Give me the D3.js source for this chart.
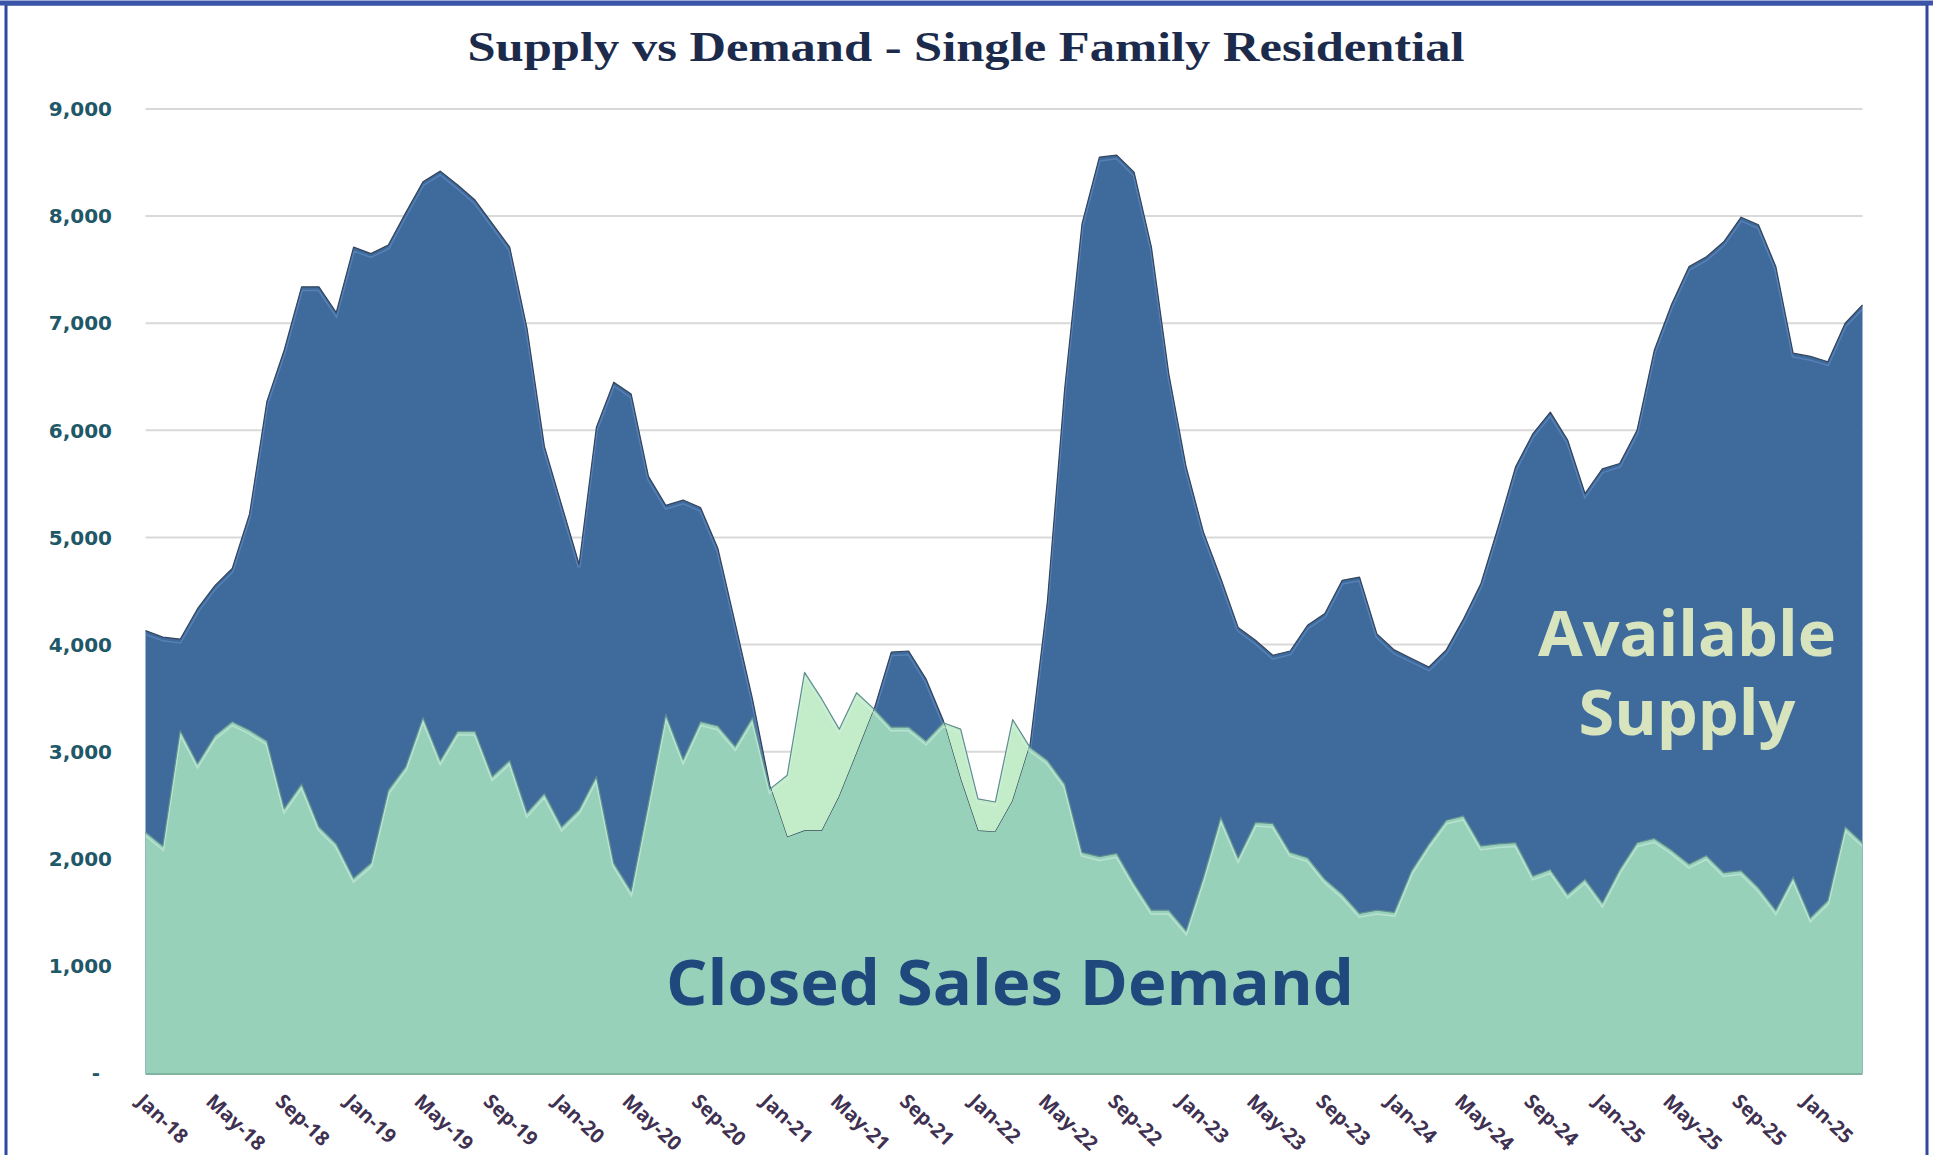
<!DOCTYPE html>
<html>
<head>
<meta charset="utf-8">
<script src="https://cdn.jsdelivr.net/npm/d3@7"></script>
<style>
    body { margin: 0; background: #fff; }
    svg { display: block; }
</style>
</head>
<body>
<div id="chart"></div>
<script>
const tickLabels = ["Jan-18", "May-18", "Sep-18", "Jan-19", "May-19", "Sep-19", "Jan-20", "May-20", "Sep-20",
    "Jan-21", "May-21", "Sep-21", "Jan-22", "May-22", "Sep-22", "Jan-23", "May-23", "Sep-23",
    "Jan-24", "May-24", "Sep-24", "Jan-25", "May-25", "Sep-25", "Jan-25"];

// monthly, Jan-18 .. Apr-26
const supply = [
    4130, 4070, 4050, 4335, 4550, 4710, 5220, 6270, 6750, 7340,
    7340, 7100, 7710, 7650, 7730, 8030, 8320, 8420, 8290, 8150,
    7930, 7710, 6950, 5850, 5300, 4750, 6030, 6450, 6340, 5570,
    5300, 5350, 5280, 4900, 4200, 3490, 2680, 2200, 2260, 2260,
    2580, 2980, 3390, 3930, 3940, 3680, 3290, 2740, 2260, 2250,
    2540, 3060, 4400, 6390, 7930, 8550, 8570, 8410, 7710, 6530,
    5660, 5050, 4620, 4160, 4040, 3900, 3940, 4180, 4290, 4600,
    4630, 4100, 3950, 3870, 3790, 3950, 4240, 4570, 5100, 5660,
    5970, 6170, 5910, 5410, 5640, 5690, 6000, 6750, 7180, 7530,
    7620, 7760, 7990, 7920, 7530, 6720, 6690, 6640, 7000, 7170
];

const demand = [
    2250, 2120, 3200, 2890, 3150, 3280, 3200, 3100, 2470, 2700,
    2300, 2140, 1820, 1960, 2640, 2860, 3320, 2920, 3190, 3190,
    2770, 2920, 2430, 2610, 2300, 2460, 2770, 1960, 1700, 2520,
    3350, 2930, 3280, 3240, 3050, 3320, 2650, 2780, 3740, 3490,
    3210, 3550, 3400, 3230, 3230, 3100, 3270, 3210, 2560, 2530,
    3300, 3040, 2920, 2700, 2060, 2020, 2050, 1770, 1520, 1520,
    1330, 1830, 2390, 2010, 2340, 2330, 2060, 2010, 1810, 1670,
    1490, 1520, 1500, 1890, 2140, 2360, 2400, 2120, 2140, 2150,
    1840, 1900, 1670, 1810, 1590, 1900, 2150, 2190, 2080, 1950,
    2030, 1870, 1890, 1730, 1520, 1830, 1450, 1610, 2300, 2150
];

const yTicks = [0, 1000, 2000, 3000, 4000, 5000, 6000, 7000, 8000, 9000];

const width = 1933;
const height = 1155;

const svg = d3.select("#chart")
    .append("svg")
    .attr("width", width)
    .attr("height", height);

const x = d3.scaleLinear().domain([0, supply.length - 1]).range([145.5, 1862.5]);
const y = d3.scaleLinear().domain([0, 9000]).range([1073, 109]);

// frame
svg.append("rect")
    .attr("x", 6).attr("y", 4)
    .attr("width", 1921).attr("height", 1200)
    .attr("fill", "none")
    .attr("stroke", "#2f47a0")
    .attr("stroke-width", 3);
svg.append("line")
    .attr("x1", 0).attr("x2", width)
    .attr("y1", 3).attr("y2", 3)
    .attr("stroke", "#3a55a8")
    .attr("stroke-width", 5);

svg.append("text")
    .attr("x", 966).attr("y", 61)
    .attr("text-anchor", "middle")
    .attr("textLength", 997)
    .attr("lengthAdjust", "spacingAndGlyphs")
    .style("font-family", "'Liberation Serif', 'Times New Roman', serif")
    .style("font-weight", "bold")
    .style("font-size", "43px")
    .style("fill", "#1c2b4b")
    .text("Supply vs Demand - Single Family Residential");

// grid + y labels
svg.append("g")
    .selectAll("line")
    .data(yTicks)
    .join("line")
    .attr("x1", x(0)).attr("x2", x(supply.length - 1))
    .attr("y1", d => y(d)).attr("y2", d => y(d))
    .attr("stroke", "#d9d9d9")
    .attr("stroke-width", 2);

svg.append("g")
    .selectAll("text")
    .data(yTicks)
    .join("text")
    .attr("x", d => d === 0 ? 100 : 112)
    .attr("y", d => y(d))
    .attr("dy", "0.36em")
    .attr("text-anchor", "end")
    .style("font-family", "'DejaVu Sans', Verdana, sans-serif")
    .style("font-weight", "bold")
    .style("font-size", "20px")
    .style("fill", "#215868")
    .text(d => d === 0 ? "-" : d3.format(",")(d));

const area = d3.area()
    .x((d, i) => x(i))
    .y0(y(0))
    .y1(d => y(d));

const line = d3.line()
    .x((d, i) => x(i))
    .y(d => y(d));

const defs = svg.append("defs");
defs.append("clipPath").attr("id", "supplyClip")
    .append("path").attr("d", area(supply));
defs.append("clipPath").attr("id", "demandClip")
    .append("path").attr("d", area(demand));

const g = svg.append("g");

// demand where it sits above supply
g.append("path")
    .attr("d", area(demand))
    .attr("fill", "#c3edc8");

g.append("path")
    .attr("d", area(supply))
    .attr("fill", "#3e6a9c");

g.append("path")
    .attr("d", line(supply))
    .attr("transform", "translate(0,3)")
    .attr("clip-path", "url(#supplyClip)")
    .attr("fill", "none")
    .attr("stroke", "#6f98cf")
    .attr("stroke-width", 3)
    .attr("opacity", 0.5);

g.append("path")
    .attr("d", line(supply))
    .attr("fill", "none")
    .attr("stroke", "#33445c")
    .attr("stroke-width", 1.2)
    .attr("stroke-linejoin", "round");

// demand overlapping supply
g.append("path")
    .attr("d", area(demand))
    .attr("clip-path", "url(#supplyClip)")
    .attr("fill", "#98d1ba");

g.append("path")
    .attr("d", line(demand))
    .attr("transform", "translate(0,3)")
    .attr("clip-path", "url(#demandClip)")
    .attr("fill", "none")
    .attr("stroke", "#d4f0e6")
    .attr("stroke-width", 3)
    .attr("opacity", 0.55);

g.append("path")
    .attr("d", line(demand))
    .attr("fill", "none")
    .attr("stroke", "#5f8d90")
    .attr("stroke-width", 1.2)
    .attr("stroke-linejoin", "round");

svg.append("line")
    .attr("x1", x(0)).attr("x2", x(supply.length - 1))
    .attr("y1", y(0) + 1).attr("y2", y(0) + 1)
    .attr("stroke", "#7fb39f")
    .attr("stroke-width", 2);

// x labels, every 4th month
svg.append("g")
    .selectAll("text")
    .data(tickLabels)
    .join("text")
    .attr("transform", (d, i) => `translate(${x(i * 4) - 10},1103) rotate(43)`)
    .style("font-family", "'Open Sans', sans-serif")
    .style("font-weight", "bold")
    .style("font-size", "20px")
    .style("fill", "#3f3151")
    .text(d => d);

svg.append("text")
    .attr("x", 1010).attr("y", 1005)
    .attr("text-anchor", "middle")
    .attr("textLength", 688)
    .attr("lengthAdjust", "spacingAndGlyphs")
    .style("font-family", "'Open Sans', sans-serif")
    .style("font-weight", "bold")
    .style("font-size", "62px")
    .style("fill", "#1f497d")
    .text("Closed Sales Demand");

svg.append("text")
    .attr("x", 1687).attr("y", 656)
    .attr("text-anchor", "middle")
    .attr("textLength", 298)
    .attr("lengthAdjust", "spacingAndGlyphs")
    .style("font-family", "'Open Sans', sans-serif")
    .style("font-weight", "bold")
    .style("font-size", "62px")
    .style("fill", "#d7e4bd")
    .text("Available");

svg.append("text")
    .attr("x", 1687).attr("y", 735)
    .attr("text-anchor", "middle")
    .attr("textLength", 217)
    .attr("lengthAdjust", "spacingAndGlyphs")
    .style("font-family", "'Open Sans', sans-serif")
    .style("font-weight", "bold")
    .style("font-size", "62px")
    .style("fill", "#d7e4bd")
    .text("Supply");
</script>
</body>
</html>
